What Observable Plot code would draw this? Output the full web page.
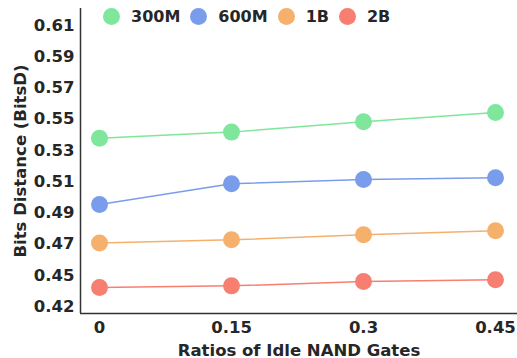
<!DOCTYPE html>
<html>
<head>
<meta charset="utf-8">
<script src="https://cdn.jsdelivr.net/npm/d3@7"></script>
<script src="https://cdn.jsdelivr.net/npm/@observablehq/plot@0.6"></script>
<style>
  html, body { margin: 0; padding: 0; background: #fff; }
  #wrap { position: relative; width: 517px; height: 358px; font-family: "DejaVu Sans", sans-serif; font-weight: bold; color: #262626; }
  #legend { position: absolute; left: 103px; top: 7px; display: flex; align-items: center; font-size: 16px; white-space: nowrap; }
  .item { display: flex; align-items: center; margin-right: 10px; }
  .sw { width: 17px; height: 17px; border-radius: 50%; margin-right: 11px; }
</style>
</head>
<body>
<div id="wrap"><div id="legend"></div></div>
<script>
const ratios = [0, 0.15, 0.3, 0.45];
const xTickLabels = ["0", "0.15", "0.3", "0.45"];
const seriesNames = ["300M", "600M", "1B", "2B"];
const seriesColors = ["#7fe69c", "#7a9deb", "#f5b06c", "#f77f71"];
const v300M = [0.5378, 0.5417, 0.5483, 0.5543];
const v600M = [0.4953, 0.5086, 0.5113, 0.5124];
const v1B = [0.4706, 0.4727, 0.4759, 0.4785];
const v2B = [0.4422, 0.4432, 0.4460, 0.4471];
const yTickValues = [0.43, 0.45, 0.47, 0.49, 0.51, 0.53, 0.55, 0.57, 0.59, 0.61];
const yTickLabels = ["0.42", "0.45", "0.47", "0.49", "0.51", "0.53", "0.55", "0.57", "0.59", "0.61"];
const xDomain = [-0.0216, 0.475];
const yDomain = [0.4255, 0.6209];

const allValues = [v300M, v600M, v1B, v2B];
const data = [];
seriesNames.forEach((s, i) => ratios.forEach((r, j) => data.push({series: s, x: r, y: allValues[i][j]})));

const ink = "#262626";
const chart = Plot.plot({
  width: 517,
  height: 358,
  marginLeft: 80,
  marginRight: 0,
  marginTop: 8,
  marginBottom: 45,
  style: {fontFamily: "DejaVu Sans, sans-serif", fontWeight: "bold", fontSize: "16.5px", color: ink, background: "white"},
  x: {domain: xDomain},
  y: {domain: yDomain},
  color: {domain: seriesNames, range: seriesColors},
  marks: [
    Plot.axisY({ticks: yTickValues, tickSize: 0, tickPadding: 6, tickFormat: (d) => yTickLabels[yTickValues.indexOf(d)],
      label: "Bits Distance (BitsD)", labelArrow: "none", labelAnchor: "center", labelOffset: 66, fontSize: 16.5}),
    Plot.axisX({ticks: ratios, tickSize: 0, tickPadding: 8, tickFormat: (d) => xTickLabels[ratios.indexOf(d)],
      label: "Ratios of Idle NAND Gates", labelArrow: "none", labelAnchor: "center", labelOffset: 42, fontSize: 16.5}),
    Plot.ruleX([xDomain[0]], {stroke: "#333", strokeWidth: 1.5}),
    Plot.ruleY([yDomain[0]], {stroke: "#333", strokeWidth: 1.5}),
    Plot.line(data, {x: "x", y: "y", stroke: "series", strokeWidth: 1.5}),
    Plot.dot(data, {x: "x", y: "y", fill: "series", r: 8.5})
  ]
});
document.getElementById("wrap").prepend(chart);

const legend = document.getElementById("legend");
seriesNames.forEach((s, i) => {
  const item = document.createElement("div");
  item.className = "item";
  const sw = document.createElement("span");
  sw.className = "sw";
  sw.style.background = seriesColors[i];
  const t = document.createElement("span");
  t.textContent = s;
  item.append(sw, t);
  legend.append(item);
});
</script>
</body>
</html>
